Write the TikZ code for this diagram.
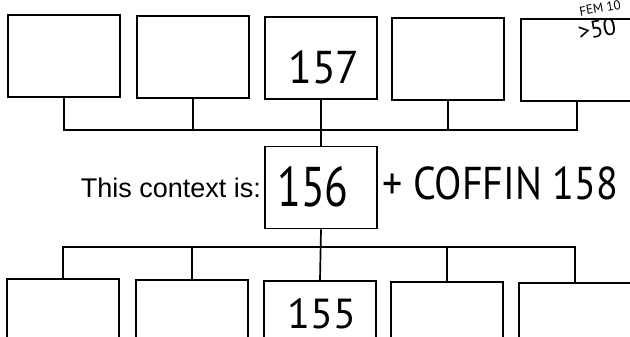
\documentclass[tikz,border=0pt]{standalone}
\usepackage{fontspec}
\setmainfont{Liberation Sans}
\newfontfamily\handfont{PT Sans}
\usetikzlibrary{positioning}
\tikzset{
  ctxbox/.style={draw,rectangle,line width=1.7pt,minimum width=112pt,minimum height=82pt,inner sep=0pt},
  link/.style={line width=1.7pt},
  hand/.style={font=\handfont,inner sep=0pt}
}
\begin{document}
\begin{tikzpicture}[x=1pt,y=-1pt]
  \useasboundingbox (0,0) rectangle (630,337);
  \clip (0,0) rectangle (630,337);
  % contexts above
  \node[ctxbox] (top1) at (64,56) {};
  \node[ctxbox] (top2) at (193,57) {};
  \node[ctxbox] (top3) at (321,58) {};
  \node[ctxbox] (top4) at (448,59) {};
  \node[ctxbox] (top5) at (577,60) {};
  \node[hand,font=\handfont\fontsize{46}{46}\selectfont,xscale=0.95,transform shape] (n157) at (324,67) {157};
  % this context
  \node[ctxbox] (ctx) at (321,187.5) {};
  \node[hand,font=\handfont\fontsize{56}{56}\selectfont,xscale=0.78,transform shape] (n156) at (313,187) {156};
  \node[left=3pt of ctx,inner sep=0pt,font=\fontsize{27}{27}\selectfont] (lbl) {This context is:};
  \node[hand,font=\handfont\fontsize{46}{46}\selectfont,xscale=0.87,transform shape,anchor=west] (coffin) at (382,183) {+ COFFIN 158};
  % contexts below
  \node[ctxbox] (low1) at (63,320) {};
  \node[ctxbox] (low2) at (192,321) {};
  \node[ctxbox] (low3) at (320,322) {};
  \node[ctxbox] (low4) at (447,323) {};
  \node[ctxbox] (low5) at (575,324) {};
  \node[hand,font=\handfont\fontsize{42}{42}\selectfont] (n155) at (322,314) {155};
  % note in the corner
  \node[hand,font=\handfont\fontsize{13}{13}\selectfont,rotate=10] (sex) at (600,8) {FEM 10};
  \node[hand,font=\handfont\fontsize{24}{24}\selectfont,rotate=10] (age) at (597,29) {>50};
  % links
  \coordinate (upbus) at (0,130);
  \coordinate (lowbus) at (0,247);
  \draw[link] (top1.south) -- (top1.south |- upbus) -- (top5.south |- upbus) -- (top5.south);
  \draw[link] (top2.south) -- (top2.south |- upbus);
  \draw[link] (top4.south) -- (top4.south |- upbus);
  \draw[link] (top3.south) -- (ctx.north);
  \draw[link] (low1.north) -- (low1.north |- lowbus) -- (low5.north |- lowbus) -- (low5.north);
  \draw[link] (low2.north) -- (low2.north |- lowbus);
  \draw[link] (low4.north) -- (low4.north |- lowbus);
  \draw[link] (ctx.south) -- (low3.north);
\end{tikzpicture}
\end{document}
